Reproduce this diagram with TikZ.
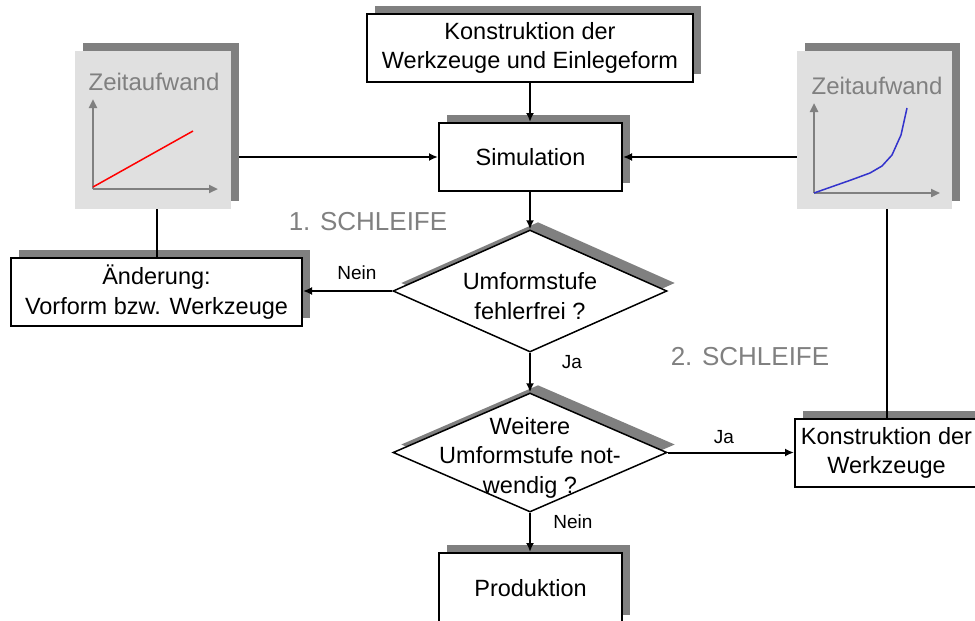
\documentclass[tikz,border=0pt]{standalone}
\usepackage{fontspec}
\setmainfont{Liberation Sans}
\usetikzlibrary{shapes.geometric,shadows,arrows.meta,calc}
\definecolor{shadowgray}{RGB}{128,128,128}
\definecolor{panelgray}{RGB}{224,224,224}
\definecolor{labelgray}{RGB}{128,128,128}
\definecolor{curveblue}{RGB}{51,51,204}
\newcommand\bodyf{\fontsize{23.5}{29.5}\selectfont}
\begin{document}
\begin{tikzpicture}[x=1pt,y=-1pt,
  sh/.style={general shadow={fill=shadowgray, shadow xshift=8pt, shadow yshift=8pt}},
  box/.style={draw, line width=2pt, fill=white, minimum height=68pt, inner sep=2pt, align=center, font=\bodyf, sh},
  dia/.style={diamond, draw, line width=1.5pt, fill=white, minimum width=274pt, inner sep=0pt, sh},
  txt/.style={inner sep=0pt, align=center, font=\bodyf},
  panel/.style={fill=panelgray, minimum width=156pt, minimum height=158pt, inner sep=0pt, sh},
  ztext/.style={inner sep=0pt, text=labelgray, font=\fontsize{24}{28}\selectfont},
  big/.style={inner sep=0pt, text=labelgray, font=\fontsize{26}{30}\selectfont},
  lbl/.style={inner sep=0pt, font=\fontsize{19}{22}\selectfont},
  conn/.style={line width=2pt},
  arr/.style={conn, -{Latex[length=9pt,width=8pt]}},
  axis/.style={draw=shadowgray, line width=2.5pt, -{Triangle[length=9pt,width=8pt]}}
]
\useasboundingbox (0,0) rectangle (975,621);

% panels
\node[panel] (lp) at (153,130) {};
\node[panel, minimum width=155pt] (rp) at (874.5,130) {};
\node[ztext] (lpt) at (154,82) {Zeitaufwand};
\node[ztext] (rpt) at (877,86) {Zeitaufwand};
\coordinate (lo) at (93,189);
\draw[axis] (lo) -- (93,99);
\draw[axis] (lo) -- (218,189);
\draw[red, line width=1.5pt] (93,187) -- (193,131);
\coordinate (ro) at (814,193);
\draw[axis] (ro) -- (814,103);
\draw[axis] (ro) -- (940,193);
\draw[curveblue, line width=1.5pt] (814,193) -- (851,180) -- (870,173) -- (882,166) -- (892,155) -- (901,135) -- (907,108);

% boxes
\node[box, minimum width=326pt] (top) at (530,48) {Konstruktion der\\Werkzeuge und Einlegeform};
\node[box, minimum width=183pt] (sim) at (530.5,157) {Simulation};
\node[box, minimum width=291pt] (aend) at (156.5,292) {Änderung:\\Vorform bzw. Werkzeuge};
\node[dia, minimum height=122pt] (d1) at (530,291) {};
\node[txt] (d1t) at (530,296) {Umformstufe\\fehlerfrei ?};
\node[dia, minimum height=119pt] (d2) at (530,452.5) {};
\node[txt] (d2t) at (530,457.5) {Weitere\\Umformstufe not-\\wendig ?};
\node[box, minimum width=183pt, minimum height=70pt] (prod) at (530.5,588) {Produktion};
\node[box, minimum width=183pt] (kw) at (886.5,453) {Konstruktion der\\Werkzeuge};

% connectors
\draw[arr] (top.south) -- (top.south |- sim.north);
\draw[arr] ($(sim.west -| lp.east)+(8,0)$) -- (sim.west);
\draw[arr] (sim.east -| rp.west) -- (sim.east);
\draw[arr] (sim.south -| d1.north) -- (d1.north);
\draw[arr] (d1.west) -- (d1.west -| aend.east);
\draw[arr] (d1.south) -- (d2.north);
\draw[arr] (d2.south) -- (d2.south |- prod.north);
\draw[arr] (d2.east) -- (d2.east -| kw.west);
\draw[conn] (aend.north) -- (aend.north |- lp.south);
\draw[conn] (kw.north) -- (kw.north |- rp.south);

% labels
\node[lbl] (n1) at (357,273) {Nein};
\node[lbl] (j1) at (572,362) {Ja};
\node[lbl] (n2) at (573,522) {Nein};
\node[lbl] (j2) at (724,437) {Ja};
\node[big] (s1) at (368,222) {1. SCHLEIFE};
\node[big] (s2) at (750,357) {2. SCHLEIFE};
\end{tikzpicture}
\end{document}
